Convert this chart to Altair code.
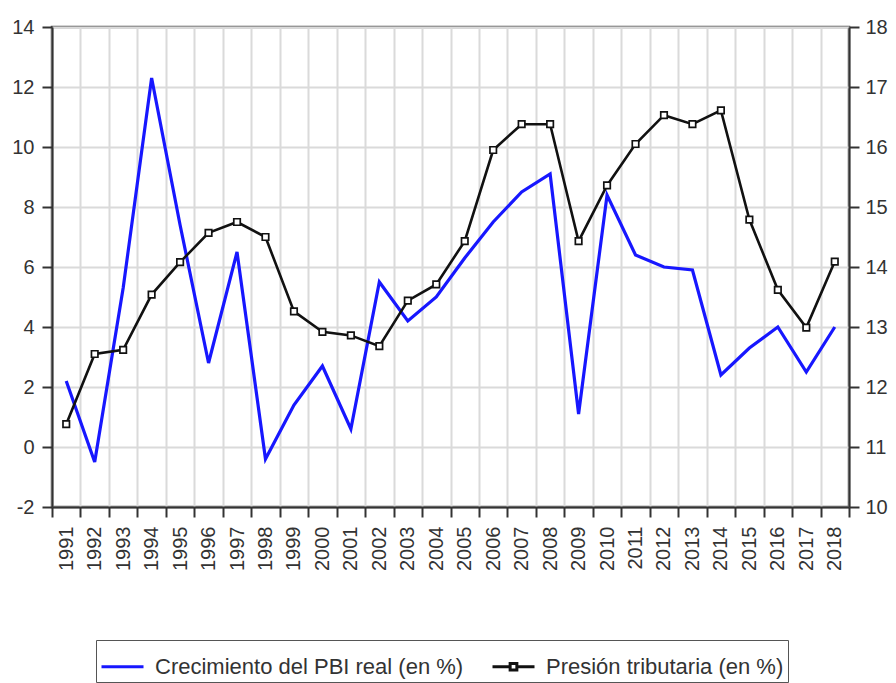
import altair as alt
import pandas as pd

years = ["1991", "1992", "1993", "1994", "1995", "1996", "1997", "1998", "1999", "2000",
         "2001", "2002", "2003", "2004", "2005", "2006", "2007", "2008", "2009", "2010",
         "2011", "2012", "2013", "2014", "2015", "2016", "2017", "2018"]
pbi = [2.2, -0.5, 5.3, 12.3, 7.4, 2.8, 6.5, -0.4, 1.4, 2.7,
       0.6, 5.5, 4.2, 5.0, 6.3, 7.5, 8.5, 9.1, 1.1, 8.4,
       6.4, 6.0, 5.9, 2.4, 3.3, 4.0, 2.5, 4.0]
presion = [11.38, 12.55, 12.62, 13.54, 14.08, 14.57, 14.75, 14.50, 13.26, 12.92,
           12.86, 12.68, 13.44, 13.71, 14.43, 15.95, 16.38, 16.38, 14.43, 15.36,
           16.05, 16.53, 16.38, 16.61, 14.79, 13.62, 12.99, 14.09]
series = ["Crecimiento del PBI real (en %)", "Presión tributaria (en %)"]
left_ticks = [-2, 0, 2, 4, 6, 8, 10, 12, 14]
right_ticks = [10, 11, 12, 13, 14, 15, 16, 17, 18]

df_pbi = pd.DataFrame({"year": years, "value": pbi, "serie": series[0]})
df_pres = pd.DataFrame({"year": years, "value": presion, "serie": series[1]})

FONT = "Liberation Sans"
TXT = "#333333"

black_symbol = "M-1,0H-0.16M0.16,0H1M-0.16,-0.16H0.16V0.16H-0.16Z"
legend = alt.Legend(
    title=None, orient="none", legendX=44, legendY=613, direction="horizontal",
    strokeColor="#555555", padding=4, symbolType="stroke", symbolSize=1764,
    symbolStrokeWidth=3, labelFontSize=22, labelFont=FONT, labelColor=TXT,
    labelOffset=10, columnPadding=22, fillColor="white", symbolOpacity=1,
    labelLimit=0,
)
color = alt.Color("serie:N", scale=alt.Scale(domain=series, range=["#1717ff", "#111111"]), legend=legend)
shape = alt.Shape("serie:N", scale=alt.Scale(domain=series, range=["stroke", black_symbol]), legend=legend)

x = alt.X("year:O", sort=years, bandPosition=0.5,
          scale=alt.Scale(type="band", paddingInner=0, paddingOuter=0),
          axis=alt.Axis(title=None, tickBand="extent", labelAngle=270, labelPadding=9,
                        tickSize=10, grid=True))

blue = alt.Chart(df_pbi).mark_line(strokeWidth=3.2).encode(
    x=x,
    y=alt.Y("value:Q", scale=alt.Scale(domain=[-2, 14], nice=False, zero=False),
            axis=alt.Axis(title=None, orient="left", values=left_ticks, grid=True,
                          tickSize=10, labelPadding=8, labelExpr="datum.value + ''")),
    color=color,
)
black = alt.Chart(df_pres).mark_line(
    strokeWidth=2.6,
    point=alt.OverlayMarkDef(shape="square", filled=False, fill="white", strokeWidth=1.7, size=42),
).encode(
    x=x,
    y=alt.Y("value:Q", scale=alt.Scale(domain=[10, 18], nice=False, zero=False),
            axis=alt.Axis(title=None, orient="right", values=right_ticks, grid=False,
                          tickSize=10, labelPadding=6)),
    color=color,
)
# legend-only layer (no rows pass the filter) so the legend gets per-series symbols
legend_layer = alt.Chart(df_pres).mark_point(filled=False, strokeWidth=3).encode(
    color=color, shape=shape,
).transform_filter("false")

chart = alt.layer(blue, black, legend_layer).resolve_scale(y="independent").properties(
    width=797, height=480, padding={"left": 3, "top": 9, "right": 0, "bottom": 0}
).configure_view(
    stroke="#555555", strokeWidth=2.5
).configure_axis(
    labelFont=FONT, labelFontSize=20, labelColor=TXT,
    domainColor="#333333", domainWidth=2, tickColor="#333333", tickWidth=2,
    gridColor="#dadada", gridWidth=2,
)

chart.save("out.html", embed_options={"renderer": "svg", "actions": False})
